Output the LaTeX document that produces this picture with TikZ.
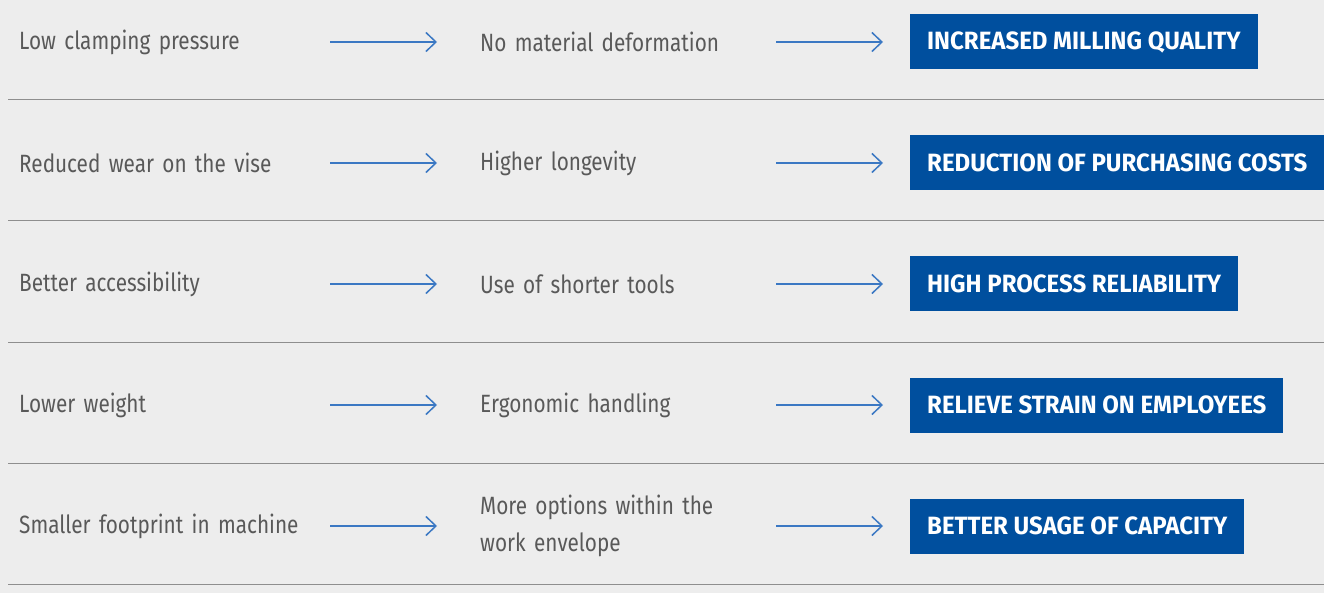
\documentclass[tikz,border=0pt]{standalone}
\usepackage{fontspec}
\setmainfont{Fira Sans}[FakeStretch=0.83]
\newfontfamily\boxfont{Fira Sans}[FakeStretch=0.96]
\usepackage{xcolor}
\usetikzlibrary{arrows.meta}
\definecolor{pagebg}{HTML}{EDEDED}
\definecolor{textgray}{HTML}{595959}
\definecolor{rulegray}{HTML}{8E8E8E}
\definecolor{flowblue}{HTML}{3B78C3}
\definecolor{boxblue}{HTML}{004F9E}
\begin{document}
\begin{tikzpicture}[x=1pt, y=-1pt,
          cause/.style={anchor=west, inner sep=0pt, text width=301pt,
                        align=left, text=textgray,
                        font=\fontsize{25}{37}\selectfont},
          effect/.style={anchor=west, inner sep=0pt, text width=286pt,
                         align=left, text=textgray,
                         font=\fontsize{25}{37}\selectfont},
          benefit/.style={anchor=west, fill=boxblue, text=white,
                          inner xsep=17pt, minimum height=55pt,
                          font=\boxfont\fontsize{25}{30}\selectfont\bfseries},
          flow/.style={-{Straight Barb[length=10pt, width=19pt]},
                       line width=1.5pt, flowblue},
          rule/.style={line width=1pt, rulegray}
        ]
        %% Background
        \fill[pagebg] (0,0) rectangle (1324,593);
        \useasboundingbox (0,0) rectangle (1324,593);
        %% Rows: cause -> effect -> benefit
        \foreach \cause/\effect/\benefit [count=\r] in {
            Low clamping pressure/No material deformation/INCREASED MILLING QUALITY,
            Reduced wear on the vise/Higher longevity/REDUCTION OF PURCHASING COSTS,
            Better accessibility/Use of shorter tools/HIGH PROCESS RELIABILITY,
            Lower weight/Ergonomic handling/RELIEVE STRAIN ON EMPLOYEES,
            Smaller footprint in machine/{More options within the\\work envelope}/BETTER USAGE OF CAPACITY}{
          \pgfmathsetmacro\rowy{42+121*(\r-1)}
          \node[cause] (cause\r) at (19,\rowy) {\cause};
          \node[effect] (effect\r) at (480,\rowy) {\effect};
          \node[benefit] (benefit\r) at (910,\rowy) {\benefit};
          \draw[flow] ([xshift=10pt]cause\r.east) -- ([xshift=-43pt]effect\r.west);
          \draw[flow] ([xshift=10pt]effect\r.east) -- ([xshift=-27pt]benefit\r.west);
          %% Separator
          \draw[rule] (8,\rowy+58) -- (1324,\rowy+58);
        }
      \end{tikzpicture}
\end{document}
